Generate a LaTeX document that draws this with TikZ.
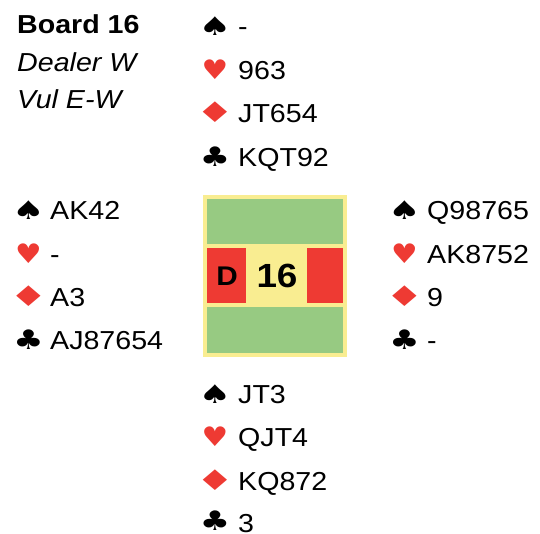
\documentclass[tikz,border=0pt]{standalone}
\usepackage{fontspec}
\setmainfont{Liberation Sans}[FakeStretch=1.1]
\newfontfamily\suitfont{DejaVu Sans}
\usepackage{graphicx}
\usepackage{xcolor}
\definecolor{suitred}{HTML}{EE3A33}
\definecolor{boardgreen}{HTML}{97CA82}
\definecolor{boardyellow}{HTML}{F9ED91}
% suit glyphs, widened to the board's look
\newcommand{\suitS}{\scalebox{1.35}[0.95]{♠}}
\newcommand{\suitH}{\scalebox{1.1}[1]{♥}}
\newcommand{\suitD}{\scalebox{1.6}[1.05]{♦}}
\newcommand{\suitC}{\scalebox{1.25}[1]{♣}}
\tikzset{
	cards/.style={anchor=base west, inner sep=0pt, font=\fontsize{26}{30}\selectfont},
	suit/.style={anchor=base, inner sep=0pt, font=\suitfont\fontsize{27}{30}\selectfont},
	redsuit/.style={suit, text=suitred},
	info/.style={anchor=base west, inner sep=0pt, font=\fontsize{26}{30}\selectfont}
}

\begin{document}
\begin{tikzpicture}[x=1pt, y=-1pt]
			% page frame
			\useasboundingbox (0,0) rectangle (540,533);

			% Board info
			\node[info, font=\bfseries\fontsize{26}{30}\selectfont] (board) at (17,33) {Board 16};
			\node[info, font=\itshape\fontsize{26}{30}\selectfont] (dealer) at (17,71) {Dealer W};
			\node[info, font=\itshape\fontsize{26}{30}\selectfont] (vul) at (17,108) {Vul E-W};

			% Centre table with vulnerability colours
			\fill[boardyellow] (203,195) rectangle (347,357);
			\fill[boardgreen] (207,199) rectangle (343,244); % N
			\fill[boardgreen] (207,307) rectangle (343,353); % S
			\fill[suitred] (207,248) rectangle (246,303); % W
			\fill[suitred] (307,248) rectangle (343,303); % E
			\node[font=\bfseries\fontsize{27}{30}\selectfont] (dealermark) at (227,276) {D};
			\node[font=\bfseries\fontsize{33.5}{36}\selectfont] (number) at (277,276) {16};

			% North
			\node[suit] (ns) at (215,35.5) {\suitS};
			\node[cards] (nsc) at (238,35.5) {-};
			\node[redsuit] (nh) at (215,79) {\suitH};
			\node[cards] (nhc) at (238,79) {963};
			\node[redsuit] (nd) at (215,122.5) {\suitD};
			\node[cards] (ndc) at (238,122.5) {JT654};
			\node[suit] (nc) at (215,166) {\suitC};
			\node[cards] (ncc) at (238,166) {KQT92};

			% West
			\node[suit] (ws) at (28.5,219.5) {\suitS};
			\node[cards] (wsc) at (50,219.5) {AK42};
			\node[redsuit] (wh) at (28.5,263) {\suitH};
			\node[cards] (whc) at (50,263) {-};
			\node[redsuit] (wd) at (28.5,306.5) {\suitD};
			\node[cards] (wdc) at (50,306.5) {A3};
			\node[suit] (wc) at (28.5,349.5) {\suitC};
			\node[cards] (wcc) at (50,349.5) {AJ87654};

			% East
			\node[suit] (es) at (404.5,219.5) {\suitS};
			\node[cards] (esc) at (427,219.5) {Q98765};
			\node[redsuit] (eh) at (404.5,263) {\suitH};
			\node[cards] (ehc) at (427,263) {AK8752};
			\node[redsuit] (ed) at (404.5,306.5) {\suitD};
			\node[cards] (edc) at (427,306.5) {9};
			\node[suit] (ec) at (404.5,349.5) {\suitC};
			\node[cards] (ecc) at (427,349.5) {-};

			% South
			\node[suit] (ss) at (215,403) {\suitS};
			\node[cards] (ssc) at (238,403) {JT3};
			\node[redsuit] (sh) at (215,446.5) {\suitH};
			\node[cards] (shc) at (238,446.5) {QJT4};
			\node[redsuit] (sd) at (215,490) {\suitD};
			\node[cards] (sdc) at (238,490) {KQ872};
			\node[suit] (sc) at (215,530.5) {\suitC};
			\node[cards] (scc) at (238,532) {3};
		\end{tikzpicture}
\end{document}
